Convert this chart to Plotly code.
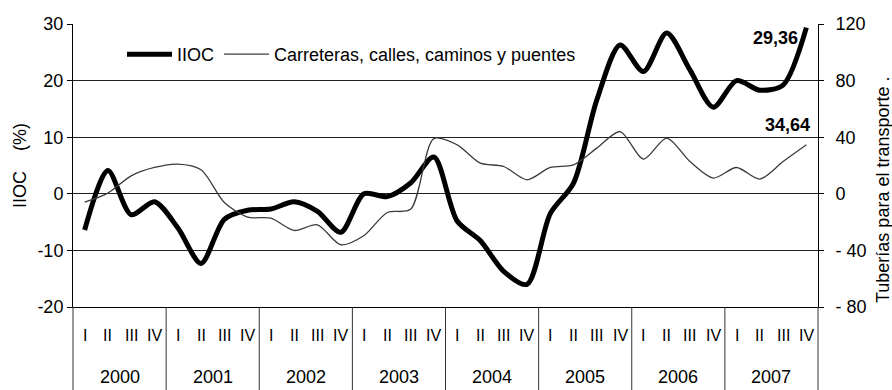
import plotly.graph_objects as go

# Quarterly series, 2000 Q1 .. 2007 Q4
years = ["2000", "2001", "2002", "2003", "2004", "2005", "2006", "2007"]
quarters = ["I", "II", "III", "IV"]

# IIOC (%), left axis
iioc = [-6.4, 4.1, -3.7, -1.4,
        -6.0, -12.3, -4.5, -2.9,
        -2.7, -1.4, -3.1, -6.8,
        0.0, -0.5, 1.9, 6.5,
        -4.8, -8.3, -13.7, -16.0,
        -3.5, 1.9, 16.6, 26.3,
        21.6, 28.4, 21.9, 15.3,
        20.0, 18.3, 19.2, 29.36]

# Carreteras, calles, caminos y puentes, right axis
carreteras = [-5.9, 0.5, 12.7, 18.6,
              21.0, 17.0, -6.1, -16.5,
              -17.2, -25.9, -21.9, -36.0,
              -29.5, -13.2, -11.0, 39.0,
              34.6, 21.7, 19.3, 9.9,
              18.6, 20.5, 32.3, 44.0,
              24.5, 39.4, 22.8, 11.1,
              18.6, 10.4, 22.8, 34.64]

left_ticks = [-20, -10, 0, 10, 20, 30]
left_ticktext = ["-20", "-10", "0", "10", "20", "30"]
right_ticks = [-80, -40, 0, 40, 80, 120]
right_ticktext = ["- 80", "- 40", "0", "40", "80", "120"]

FONT = "Liberation Sans, Arial, sans-serif"
FS = 18

n = len(iioc)
xq = [i + 0.5 for i in range(n)]

fig = go.Figure()
fig.add_trace(go.Scatter(
    x=xq, y=iioc, name="IIOC", mode="lines",
    line=dict(color="black", width=5, shape="spline", smoothing=0.8),
    yaxis="y"))
fig.add_trace(go.Scatter(
    x=xq, y=carreteras, name="Carreteras, calles, caminos y puentes", mode="lines",
    line=dict(color="#3c3c3c", width=1.3, shape="spline", smoothing=0.8),
    yaxis="y2"))

W, H = 892, 390
ml, mr, mt, mb = 73, 74, 24, 83
pw = W - ml - mr
ph = H - mt - mb


def px_x(x):
    return (x - ml) / pw


def px_y(y):
    return (H - mb - y) / ph


shapes = []
# year box separators below the plot
for k in range(len(years) + 1):
    shapes.append(dict(type="line", xref="paper", yref="paper",
                       x0=k / len(years), x1=k / len(years), y0=0, y1=-0.35,
                       line=dict(color="#333333", width=1)))

annotations = []
for i in range(n):
    annotations.append(dict(x=xq[i], y=px_y(335), xref="x", yref="paper",
                            text=quarters[i % 4], showarrow=False,
                            font=dict(family=FONT, size=16, color="black"),
                            xanchor="center", yanchor="middle"))
for k, yr in enumerate(years):
    annotations.append(dict(x=4 * k + 2, y=px_y(377), xref="x", yref="paper",
                            text=yr, showarrow=False,
                            font=dict(family=FONT, size=FS, color="black"),
                            xanchor="center", yanchor="middle"))
# value labels at the last quarter
annotations.append(dict(x=xq[-1], y=iioc[-1], xref="x", yref="y",
                        text="<b>" + f"{iioc[-1]:.2f}".replace(".", ",") + "</b>",
                        showarrow=False, xanchor="right", yanchor="middle",
                        xshift=-6, yshift=-10,
                        font=dict(family=FONT, size=FS, color="black")))
annotations.append(dict(x=xq[-1], y=carreteras[-1], xref="x", yref="y2",
                        text="<b>" + f"{carreteras[-1]:.2f}".replace(".", ",") + "</b>",
                        showarrow=False, xanchor="right", yanchor="middle",
                        xshift=6, yshift=20,
                        font=dict(family=FONT, size=FS, color="black")))
# right axis title
annotations.append(dict(x=px_x(883), y=px_y(190), xref="paper", yref="paper",
                        text="Tuberías para el transporte .", textangle=-90,
                        showarrow=False, xanchor="center", yanchor="middle",
                        font=dict(family=FONT, size=FS, color="black")))

fig.update_layout(
    width=W, height=H,
    margin=dict(l=ml, r=mr, t=mt, b=mb),
    paper_bgcolor="white", plot_bgcolor="white",
    font=dict(family=FONT, size=FS, color="black"),
    showlegend=True,
    legend=dict(orientation="h", x=px_x(122), y=px_y(36),
                xanchor="left", yanchor="top", bgcolor="rgba(0,0,0,0)",
                itemwidth=45, font=dict(family=FONT, size=FS, color="black"),
                tracegroupgap=0),
    xaxis=dict(range=[0, n], showticklabels=False, showgrid=False, zeroline=False,
               showline=True, linecolor="black", linewidth=1, ticks=""),
    yaxis=dict(range=[-20, 30], tickvals=left_ticks, ticktext=left_ticktext,
               showgrid=True, gridcolor="#222222", gridwidth=1, zeroline=False,
               showline=True, linecolor="black", linewidth=1,
               ticks="outside", ticklen=5, tickcolor="black",
               tickfont=dict(family=FONT, size=FS),
               title=dict(text="IIOC\u00a0\u00a0\u00a0\u00a0(%)", standoff=6,
                          font=dict(family=FONT, size=FS))),
    yaxis2=dict(range=[-80, 120], tickvals=right_ticks, ticktext=right_ticktext,
                overlaying="y", side="right", showgrid=False, zeroline=False,
                showline=True, linecolor="black", linewidth=1,
                ticks="outside", ticklen=5, tickcolor="black",
                ticklabelstandoff=8,
                tickfont=dict(family=FONT, size=FS)),
    shapes=shapes,
    annotations=annotations,
)

fig.write_html("out.html")
